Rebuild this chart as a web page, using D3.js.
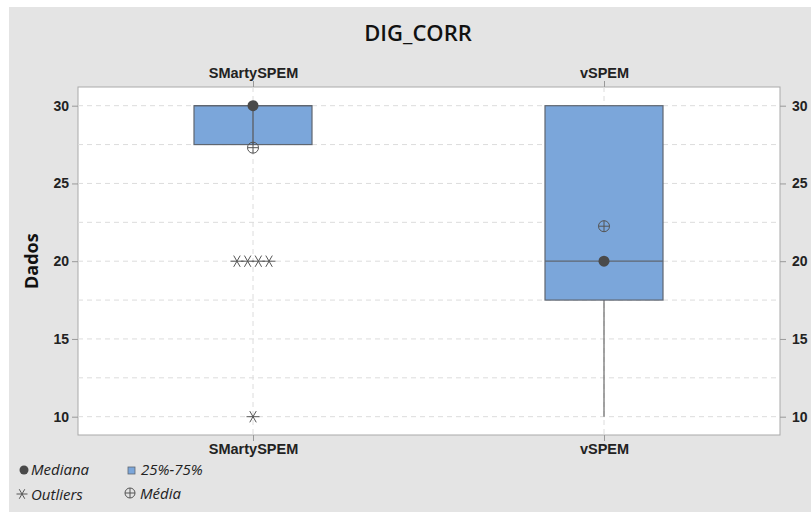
<!DOCTYPE html>
<html>
<head>
<meta charset="utf-8">
<script src="https://cdn.jsdelivr.net/npm/d3@7"></script>
<style>
  body { margin: 0; background: #fff; }
  svg { display: block; font-family: "Open Sans", "Noto Sans", sans-serif; }
</style>
</head>
<body>
<svg id="chart" width="811" height="512"></svg>
<script>
// Box plot summary for DIG_CORR, per approach
const categories = ["SMartySPEM", "vSPEM"];
const q1Values = [27.5, 17.5];
const q3Values = [30, 30];
const medianValues = [30, 20];
const meanValues = [27.3, 22.25];
const whiskerLow = [27.5, 10];
const whiskerHigh = [30, 30];
// outliers: [category index, value]
const outlierPoints = [[0, 20], [0, 20], [0, 20], [0, 20], [0, 10]];
const yTicks = [10, 15, 20, 25, 30];
const yGrid = [10, 12.5, 15, 17.5, 20, 22.5, 25, 27.5, 30];

const svg = d3.select("#chart");
const W = 811, H = 512;
const plot = { left: 78, right: 780, top: 87, bottom: 435 };

// background panel
svg.append("rect").attr("x", 9).attr("y", 7).attr("width", W - 9).attr("height", H - 7).attr("fill", "#e4e4e4");
svg.append("rect").attr("x", plot.left).attr("y", plot.top)
  .attr("width", plot.right - plot.left).attr("height", plot.bottom - plot.top)
  .attr("fill", "#fff").attr("stroke", "#a9a9a9").attr("stroke-width", 1);

const x = d3.scalePoint().domain(categories).range([253, 604]);
const y = d3.scaleLinear().domain([10, 30]).range([416.7, 105.7]);
const boxW = 118;

const g = svg.append("g");

// dashed gridlines
g.selectAll(".hgrid").data(yGrid).join("line")
  .attr("x1", plot.left).attr("x2", plot.right)
  .attr("y1", d => y(d)).attr("y2", d => y(d))
  .attr("stroke", "#dcdcdc").attr("stroke-dasharray", "5,4");
g.selectAll(".vgrid").data(categories).join("line")
  .attr("x1", d => x(d)).attr("x2", d => x(d))
  .attr("y1", plot.top).attr("y2", plot.bottom)
  .attr("stroke", "#dcdcdc").attr("stroke-dasharray", "5,4");

// axes
const tickFont = s => s.selectAll("text").attr("font-size", 14).attr("font-weight", 600).attr("fill", "#222");
const axL = svg.append("g").attr("transform", `translate(${plot.left},0)`)
  .call(d3.axisLeft(y).tickValues(yTicks).tickSize(6).tickPadding(3));
const axR = svg.append("g").attr("transform", `translate(${plot.right},0)`)
  .call(d3.axisRight(y).tickValues(yTicks).tickSize(6).tickPadding(6));
[axL, axR].forEach(a => {
  a.select(".domain").remove();
  a.selectAll("line").attr("stroke", "#999");
  tickFont(a);
});
const axT = svg.append("g").attr("transform", `translate(0,${plot.top})`)
  .call(d3.axisTop(x).tickSize(6).tickPadding(3));
const axB = svg.append("g").attr("transform", `translate(0,${plot.bottom})`)
  .call(d3.axisBottom(x).tickSize(6).tickPadding(3));
[axT, axB].forEach(a => {
  a.select(".domain").remove();
  a.selectAll("line").attr("stroke", "#999");
  a.selectAll("text").attr("font-size", 14.5).attr("font-weight", 600).attr("fill", "#222");
});

// title and y label
svg.append("text").attr("x", 418).attr("y", 41).attr("text-anchor", "middle")
  .attr("font-size", 22).attr("font-weight", 600).attr("fill", "#111").text("DIG_CORR");
svg.append("text").attr("transform", `translate(38,${y(20)}) rotate(-90)`)
  .attr("text-anchor", "middle").attr("font-size", 18).attr("font-weight", 700).attr("fill", "#111").text("Dados");

const idx = categories.map((c, i) => i);

// whiskers
g.selectAll(".whisker").data(idx).join("line")
  .attr("x1", i => x(categories[i])).attr("x2", i => x(categories[i]))
  .attr("y1", i => y(whiskerLow[i])).attr("y2", i => y(whiskerHigh[i]))
  .attr("stroke", "#6b6b6b").attr("stroke-width", 1.2);

// IQR boxes
g.selectAll(".box").data(idx).join("rect")
  .attr("x", i => x(categories[i]) - boxW / 2).attr("width", boxW)
  .attr("y", i => y(q3Values[i])).attr("height", i => y(q1Values[i]) - y(q3Values[i]))
  .attr("fill", "#7ba6da").attr("stroke", "#5f6670").attr("stroke-width", 1.2);

// median line across the box
g.selectAll(".medline").data(idx).join("line")
  .attr("x1", i => x(categories[i]) - boxW / 2).attr("x2", i => x(categories[i]) + boxW / 2)
  .attr("y1", i => y(medianValues[i])).attr("y2", i => y(medianValues[i]))
  .attr("stroke", "#5f6670").attr("stroke-width", 1.2);

// vertical line through the SMartySPEM box
g.selectAll(".inner").data(idx.filter(i => medianValues[i] === q3Values[i])).join("line")
  .attr("x1", i => x(categories[i])).attr("x2", i => x(categories[i]))
  .attr("y1", i => y(q3Values[i])).attr("y2", i => y(q1Values[i]))
  .attr("stroke", "#5f6670").attr("stroke-width", 1.5);

// mean symbol: circle with a cross
function meanSymbol(sel, cx, cy, r) {
  sel.append("circle").attr("cx", cx).attr("cy", cy).attr("r", r)
    .attr("fill", "none").attr("stroke", "#555").attr("stroke-width", 1);
  sel.append("line").attr("x1", cx - r).attr("x2", cx + r).attr("y1", cy).attr("y2", cy)
    .attr("stroke", "#555").attr("stroke-width", 1);
  sel.append("line").attr("x1", cx).attr("x2", cx).attr("y1", cy - r).attr("y2", cy + r)
    .attr("stroke", "#555").attr("stroke-width", 1);
}
idx.forEach(i => meanSymbol(g, x(categories[i]), y(meanValues[i]), 5.5));

// median dots
g.selectAll(".med").data(idx).join("circle")
  .attr("cx", i => x(categories[i])).attr("cy", i => y(medianValues[i])).attr("r", 5.5)
  .attr("fill", "#4a4a4a");

// outlier asterisks, ties spread sideways
function star(sel, cx, cy, r) {
  for (let k = 0; k < 3; k++) {
    const a = k * Math.PI / 3;
    sel.append("line")
      .attr("x1", cx - r * Math.cos(a)).attr("y1", cy - r * Math.sin(a))
      .attr("x2", cx + r * Math.cos(a)).attr("y2", cy + r * Math.sin(a))
      .attr("stroke", "#555").attr("stroke-width", 1);
  }
}
const groups = d3.group(outlierPoints, d => d[0] + "|" + d[1]);
groups.forEach(pts => {
  const n = pts.length, step = 10.7;
  pts.forEach((p, k) => {
    const dx = (k - (n - 1) / 2) * step;
    star(g, x(categories[p[0]]) + dx, y(p[1]), 6.5);
  });
});

// legend
const lg = svg.append("g").attr("font-size", 15).attr("font-style", "italic").attr("fill", "#222");
lg.append("circle").attr("cx", 24).attr("cy", 470).attr("r", 4.5).attr("fill", "#4a4a4a");
lg.append("text").attr("x", 31).attr("y", 475).text("Mediana");
lg.append("rect").attr("x", 128).attr("y", 467).attr("width", 7).attr("height", 7)
  .attr("fill", "#7ba6da").attr("stroke", "#5f6670").attr("stroke-width", 0.8);
lg.append("text").attr("x", 141).attr("y", 475).text("25%-75%");
star(lg, 22, 494, 5.5);
lg.append("text").attr("x", 31).attr("y", 500).text("Outliers");
meanSymbol(lg, 130, 493, 5);
lg.append("text").attr("x", 140).attr("y", 499).text("Média");
</script>
</body>
</html>
